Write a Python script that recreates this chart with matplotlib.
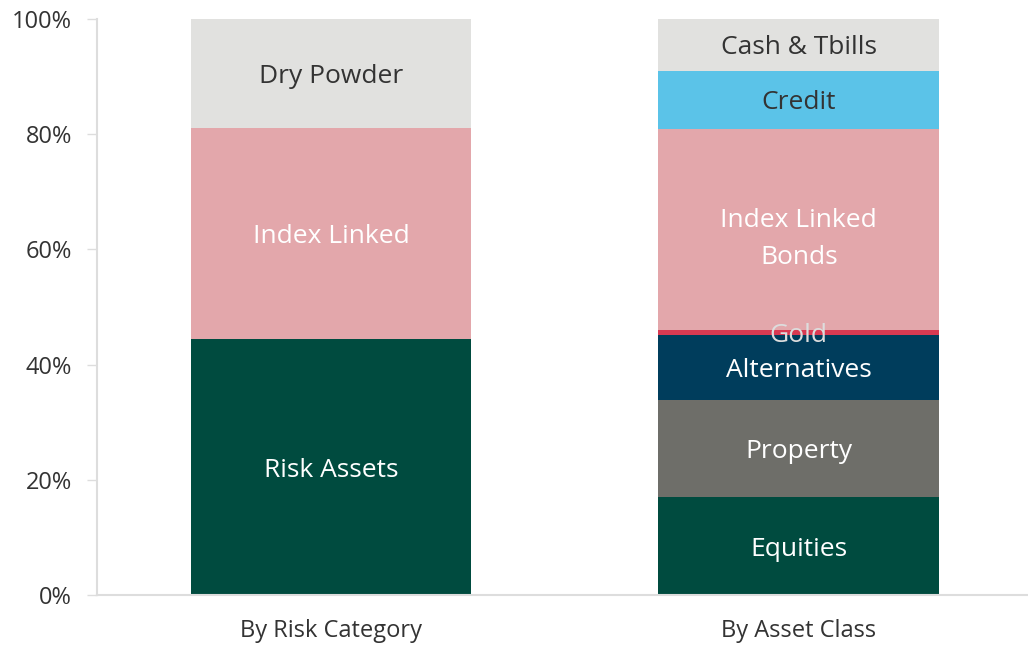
import matplotlib
matplotlib.use("Agg")
import matplotlib.pyplot as plt
from matplotlib.ticker import FuncFormatter

plt.rcParams['font.family'] = ['Open Sans', 'DejaVu Sans']

categories = ["By Risk Category", "By Asset Class"]

risk_labels = ["Risk Assets", "Index Linked", "Dry Powder"]
risk_values = [44.4, 36.7, 18.9]
risk_colors = ["#004B3F", "#E3A7AB", "#E1E1DF"]
risk_text = ["white", "white", "#333333"]

asset_labels = ["Equities", "Property", "Alternatives", "Gold", "Index Linked\nBonds", "Credit", "Cash & Tbills"]
asset_values = [17.0, 16.9, 11.3, 0.8, 34.9, 10.1, 9.0]
asset_colors = ["#004B3F", "#6E6E69", "#003D5C", "#D93A52", "#E3A7AB", "#5BC3E8", "#E1E1DF"]
asset_text = ["white", "white", "white", "#DDDDDD", "white", "#333333", "#333333"]

fig = plt.figure(figsize=(10.28, 6.47), dpi=100)
ax = fig.add_axes([97/1028, 1 - 595/647, (1028 - 97)/1028, (595 - 19)/647])

width = 0.6

def draw(xpos, labels, values, colors, tcolors):
    bottom = 0
    for lab, v, c, tc in zip(labels, values, colors, tcolors):
        ax.bar(xpos, v, width, bottom=bottom, color=c, edgecolor='none')
        ax.text(xpos, bottom + v / 2, lab, ha='center', va='center_baseline', color=tc,
                fontsize=19, linespacing=1.65)
        bottom += v

draw(0, risk_labels, risk_values, risk_colors, risk_text)
draw(1, asset_labels, asset_values, asset_colors, asset_text)

ax.set_xlim(-0.5, 1.49)
ax.set_ylim(0, 100)
ax.set_yticks([0, 20, 40, 60, 80, 100])
ax.yaxis.set_major_formatter(FuncFormatter(lambda v, p: f"{int(v)}%"))
ax.set_xticks([0, 1])
ax.set_xticklabels(categories)
ax.tick_params(axis='both', labelsize=17, colors='#333333', length=0)
ax.tick_params(axis='y', length=7, color='#DDDDDD', width=1, pad=11)
ax.tick_params(axis='x', pad=17)
for s in ['top', 'right']:
    ax.spines[s].set_visible(False)
for s in ['left', 'bottom']:
    ax.spines[s].set_color('#DDDDDD')
    ax.spines[s].set_linewidth(1.5)

fig.savefig("out.png", dpi=100)
